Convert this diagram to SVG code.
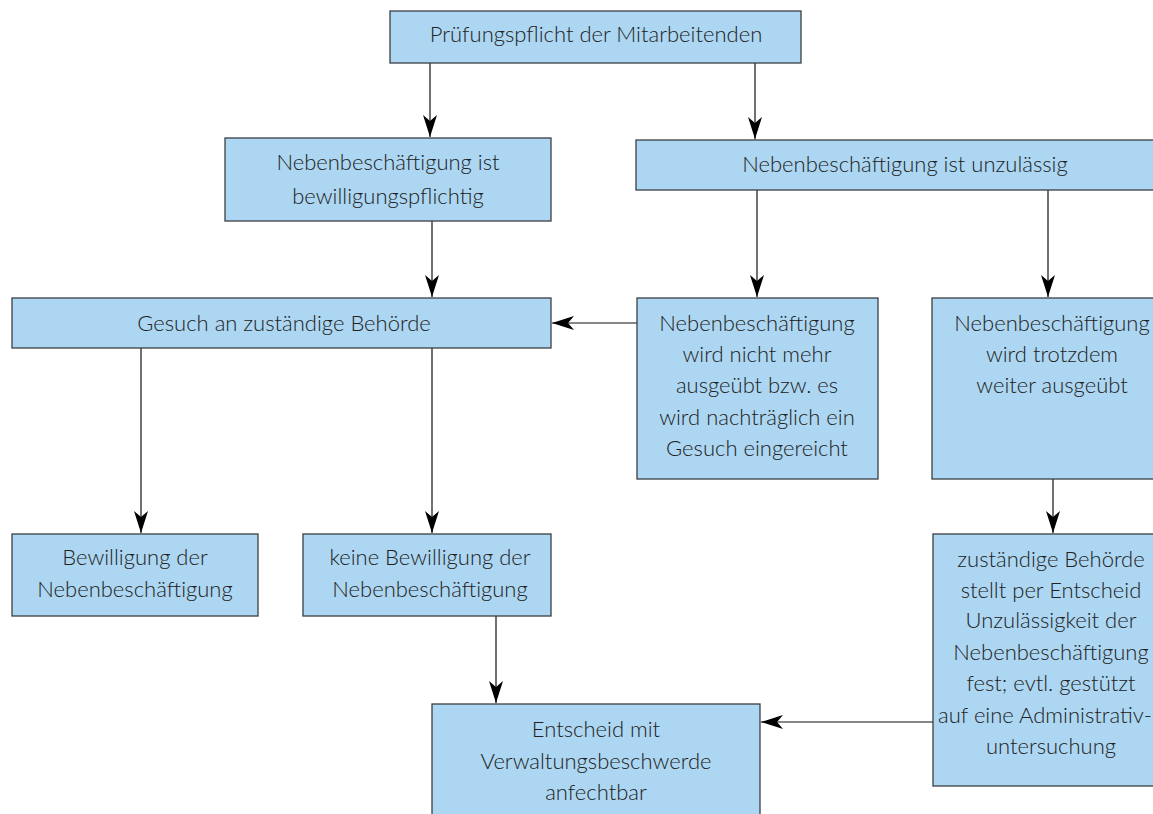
<svg xmlns="http://www.w3.org/2000/svg" width="1153" height="814" viewBox="0 0 1153 814">
<style>
.box{fill:#acd6f1;stroke:#3a3f44;stroke-width:1.3}
text{font-family:Lato,"Liberation Sans",sans-serif;font-weight:300;font-size:22px;fill:#222;text-anchor:middle}
.c{stroke:#111;stroke-width:1.2;fill:none;marker-end:url(#ah)}
</style>
<defs>
<marker id="ah" markerWidth="22" markerHeight="14" viewBox="0 0 22 14" refX="22" refY="7" orient="auto" markerUnits="userSpaceOnUse">
<path d="M0,0 L22,7 L0,14 L6,7 Z" fill="#000"/>
</marker>
</defs>
<rect width="1153" height="814" fill="#fff"/>
<g id="connectors">
<path class="c" d="M430,63 V137"/>
<path class="c" d="M755,63 V139"/>
<path class="c" d="M432,221 V297"/>
<path class="c" d="M757,190 V297"/>
<path class="c" d="M1048,190 V297"/>
<path class="c" d="M637,323 H552"/>
<path class="c" d="M141,348 V533"/>
<path class="c" d="M432,348 V533"/>
<path class="c" d="M1053,479 V533"/>
<path class="c" d="M496,616 V703"/>
<path class="c" d="M933,722 H761"/>
</g>
<g id="n1"><rect class="box" x="390" y="11" width="411" height="52"/><text x="596" y="42">Prüfungspflicht der Mitarbeitenden</text></g>
<g id="n2"><rect class="box" x="225" y="138" width="326" height="83"/><text x="388" y="170">Nebenbeschäftigung ist</text><text x="388" y="204">bewilligungspflichtig</text></g>
<g id="n3"><rect class="box" x="636" y="140" width="530" height="50"/><text x="905" y="172">Nebenbeschäftigung ist unzulässig</text></g>
<g id="n4"><rect class="box" x="12" y="298" width="539" height="50"/><text x="284" y="331">Gesuch an zuständige Behörde</text></g>
<g id="n5"><rect class="box" x="637" y="298" width="241" height="181"/><text x="757" y="331">Nebenbeschäftigung</text><text x="757" y="362">wird nicht mehr</text><text x="757" y="393">ausgeübt bzw. es</text><text x="757" y="425">wird nachträglich ein</text><text x="757" y="456">Gesuch eingereicht</text></g>
<g id="n6"><rect class="box" x="932" y="298" width="240" height="181"/><text x="1052" y="331">Nebenbeschäftigung</text><text x="1052" y="362">wird trotzdem</text><text x="1052" y="393">weiter ausgeübt</text></g>
<g id="n7"><rect class="box" x="12" y="534" width="246" height="82"/><text x="135" y="565">Bewilligung der</text><text x="135" y="597">Nebenbeschäftigung</text></g>
<g id="n8"><rect class="box" x="303" y="534" width="248" height="82"/><text x="430" y="565">keine Bewilligung der</text><text x="430" y="597">Nebenbeschäftigung</text></g>
<g id="n9"><rect class="box" x="933" y="534" width="240" height="252"/><text x="1051" y="567">zuständige Behörde</text><text x="1051" y="598">stellt per Entscheid</text><text x="1051" y="628">Unzulässigkeit der</text><text x="1051" y="660">Nebenbeschäftigung</text><text x="1051" y="691">fest; evtl. gestützt</text><text x="1045" y="723" font-size="21">auf eine Administrativ-</text><text x="1051" y="754">untersuchung</text></g>
<g id="n10"><rect class="box" x="432" y="704" width="328" height="130"/><text x="596" y="737">Entscheid mit</text><text x="596" y="769">Verwaltungsbeschwerde</text><text x="596" y="800">anfechtbar</text></g>
</svg>
